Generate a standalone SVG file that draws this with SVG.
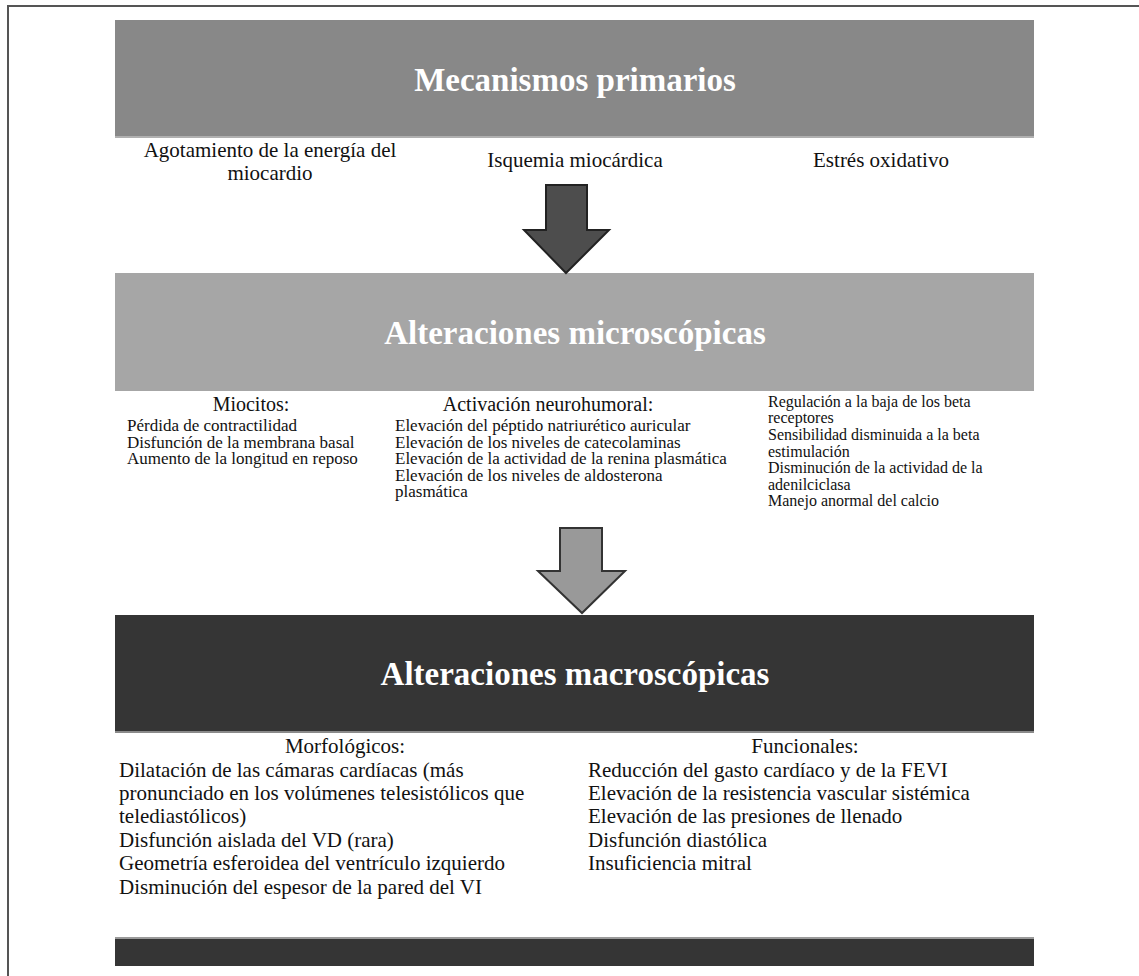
<svg xmlns="http://www.w3.org/2000/svg" width="1139" height="976" viewBox="0 0 1139 976">
<style>
.t{font-family:"Liberation Serif","Times New Roman",serif;fill:#111}
.title{font-family:"Liberation Serif","Times New Roman",serif;font-weight:bold;font-size:33px;fill:#fff;text-anchor:middle}
.r1{font-size:21px;text-anchor:middle}
.hd{font-size:20px;text-anchor:middle}
.it{font-size:17px}
.it2{font-size:16px}
.mac{font-size:21px}
.mach{font-size:21px;text-anchor:middle}
.arrow{stroke-width:2;stroke-linejoin:miter}
</style>
<rect width="1139" height="976" fill="#fff"/>
<g id="frame">
<line x1="8" y1="6" x2="1139" y2="6" stroke="#555" stroke-width="2"/>
<line x1="8" y1="5" x2="8" y2="976" stroke="#555" stroke-width="2"/>
</g>
<g id="banner-primarios">
<rect x="115" y="20" width="919" height="117" fill="#888"/>
<rect x="115" y="136" width="919" height="2" fill="#b0b0b0"/>
<text class="title" x="575" y="91">Mecanismos primarios</text>
</g>
<g id="primarios-items" class="t">
<text class="t r1" x="270" y="157">Agotamiento de la energía del</text>
<text class="t r1" x="270" y="180">miocardio</text>
<text class="t r1" x="575" y="167">Isquemia miocárdica</text>
<text class="t r1" x="881" y="167">Estrés oxidativo</text>
</g>
<g id="banner-micro">
<rect x="115" y="273" width="919" height="118" fill="#a6a6a6"/>
<text class="title" x="575" y="344">Alteraciones microscópicas</text>
</g>
<g id="micro-miocitos">
<text class="t hd" x="251" y="411">Miocitos:</text>
<text class="t it" x="127" y="431">Pérdida de contractilidad</text>
<text class="t it" x="127" y="448">Disfunción de la membrana basal</text>
<text class="t it" x="127" y="464">Aumento de la longitud en reposo</text>
</g>
<g id="micro-neurohumoral">
<text class="t hd" x="548" y="411">Activación neurohumoral:</text>
<text class="t it" x="395" y="431">Elevación del péptido natriurético auricular</text>
<text class="t it" x="395" y="448">Elevación de los niveles de catecolaminas</text>
<text class="t it" x="395" y="464">Elevación de la actividad de la renina plasmática</text>
<text class="t it" x="395" y="481">Elevación de los niveles de aldosterona</text>
<text class="t it" x="395" y="497">plasmática</text>
</g>
<g id="micro-beta">
<text class="t it2" x="768" y="407">Regulación a la baja de los beta</text>
<text class="t it2" x="768" y="423">receptores</text>
<text class="t it2" x="768" y="440">Sensibilidad disminuida a la beta</text>
<text class="t it2" x="768" y="457">estimulación</text>
<text class="t it2" x="768" y="473">Disminución de la actividad de la</text>
<text class="t it2" x="768" y="490">adenilciclasa</text>
<text class="t it2" x="768" y="506">Manejo anormal del calcio</text>
</g>
<g id="banner-macro">
<rect x="115" y="615" width="919" height="118" fill="#353535"/>
<rect x="115" y="731" width="919" height="2" fill="#8a8a8a"/>
<text class="title" x="575" y="685">Alteraciones macroscópicas</text>
</g>
<g id="macro-morfologicos">
<text class="t mach" x="345" y="753">Morfológicos:</text>
<text class="t mac" x="119" y="777">Dilatación de las cámaras cardíacas (más</text>
<text class="t mac" x="119" y="800">pronunciado en los volúmenes telesistólicos que</text>
<text class="t mac" x="119" y="823">telediastólicos)</text>
<text class="t mac" x="119" y="847">Disfunción aislada del VD (rara)</text>
<text class="t mac" x="119" y="870">Geometría esferoidea del ventrículo izquierdo</text>
<text class="t mac" x="119" y="894">Disminución del espesor de la pared del VI</text>
</g>
<g id="macro-funcionales">
<text class="t mach" x="805" y="753">Funcionales:</text>
<text class="t mac" x="588" y="777">Reducción del gasto cardíaco y de la FEVI</text>
<text class="t mac" x="588" y="800">Elevación de la resistencia vascular sistémica</text>
<text class="t mac" x="588" y="823">Elevación de las presiones de llenado</text>
<text class="t mac" x="588" y="847">Disfunción diastólica</text>
<text class="t mac" x="588" y="870">Insuficiencia mitral</text>
</g>
<g id="banner-bottom">
<rect x="115" y="937" width="919" height="29" fill="#353535"/>
<rect x="115" y="937" width="919" height="2" fill="#9a9a9a"/>
</g>
<g id="connectors">
<polygon class="arrow" points="546,185 587,185 587,230 609,230 566,273 524,230 546,230" fill="#4d4d4d" stroke="#222"/>
<polygon class="arrow" points="560,528 602,528 602,571 625,571 582,613 538,571 560,571" fill="#999" stroke="#333"/>
</g>
</svg>
